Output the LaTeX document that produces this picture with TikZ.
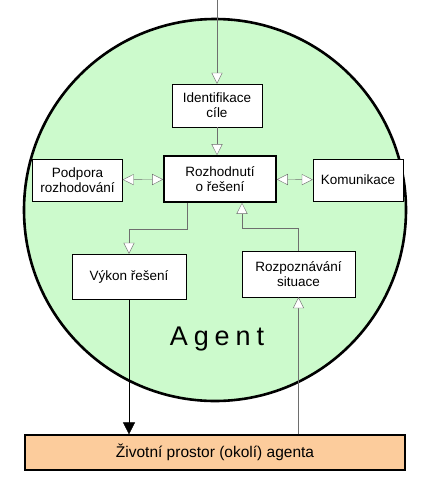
\documentclass[tikz,border=0pt]{standalone}
\usepackage{fontspec}
\setmainfont{Liberation Sans}
\usetikzlibrary{arrows.meta,positioning,calc}
\definecolor{agentgreen}{RGB}{204,250,204}
\definecolor{envorange}{RGB}{252,204,156}
\definecolor{linegray}{RGB}{110,110,110}

\begin{document}
\begin{tikzpicture}[x=1pt,y=-1pt,every node/.style={font=\fontsize{13.5}{15}\selectfont}]
\tikzstyle{n}=[draw=black,thin,minimum width=90pt,minimum height=43pt,align=center,fill=white,inner sep=2pt]
\tikzstyle{op}=[draw=linegray,thin,-{Triangle[open,fill=white,length=11pt,width=11pt]}]
\tikzstyle{opb}=[draw=linegray,thin,{Triangle[open,fill=white,length=11pt,width=11pt]}-{Triangle[open,fill=white,length=11pt,width=11pt]}]
\tikzstyle{fl}=[draw=black,thin,-{Triangle[length=12pt,width=12pt]}]
\useasboundingbox (0,0) rectangle (428,480);
% agent
\draw[line width=2.6pt,fill=agentgreen] (215,210) circle[radius=191];
\node[font=\fontsize{27}{29}\selectfont\addfontfeature{LetterSpace=22}] (ag) at (217,339) {Agent};
% boxes
\node[n] (id) at (217,105.5) {Identifikace\\cíle};
\node[n,line width=1.6pt,minimum width=112pt,minimum height=46pt] (roz) at (220,179) {Rozhodnutí\\o řešení};
\node[n,minimum height=42pt] (pod) at (77.5,180) {Podpora\\rozhodování};
\node[n,minimum height=42pt] (kom) at (358,180) {Komunikace};
\node[n,minimum width=114pt,minimum height=45pt] (vyk) at (129,276.5) {Výkon řešení};
\node[n,minimum width=113pt,minimum height=46pt] (sit) at (298.5,274) {Rozpoznávání\\situace};
\node[draw=black,line width=1.2pt,fill=envorange,minimum width=380pt,minimum height=35pt,font=\fontsize{15.5}{18}\selectfont] (env) at (215,452.5) {Životní prostor (okolí) agenta};
\coordinate (in) at (217,0);
% connectors
\draw[op] (in) -- (id);
\draw[op] (id.south) -- (id.south |- roz.north);
\draw[opb] (pod) -- (roz);
\draw[opb] (roz) -- (kom);
\draw[op] ([xshift=-33pt]roz.south) -- ++(0,26) -| (vyk.north);
\draw[op] (sit.north) -- ++(0,-23) -| ([xshift=22pt]roz.south);
\draw[fl] (vyk.south) -- (vyk.south |- env.north);
\draw[op] (sit.south |- env.north) -- (sit.south);
\end{tikzpicture}
\end{document}
